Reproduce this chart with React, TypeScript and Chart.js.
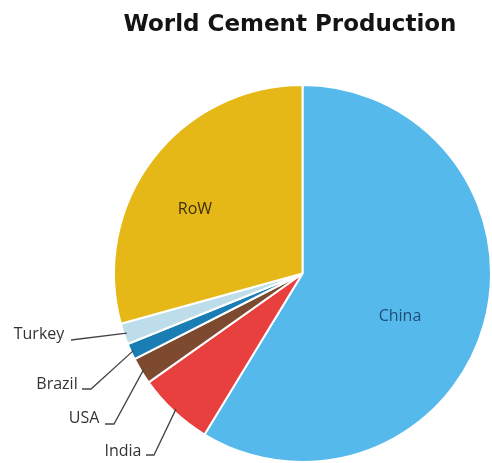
import React, { useEffect, useRef } from "react";
import { Chart, registerables } from "chart.js";

Chart.register(...registerables);

const categories = ["China", "India", "USA", "Brazil", "Turkey", "RoW"];
const values = [58.7, 6.5, 2.3, 1.4, 1.8, 29.3];
const colors = ["#55B9EB", "#E8403F", "#7D4A30", "#1A7DB3", "#BCDDE9", "#E5B817"];
const chartTitle = "World Cement Production";

// label placement: inside labels centered; outside labels with leader lines
const insideLabels: Record<string, { x: number; y: number; color: string }> = {
  China: { x: 400, y: 316, color: "#1F4E79" },
  RoW: { x: 195, y: 209, color: "#3B2F0C" },
};
const outsideLabels: Record<string, { tx: number; ty: number; lx: number; ly: number; kx: number }> = {
  Turkey: { tx: 39, ty: 334, lx: 71, ly: 340, kx: 71 },
  Brazil: { tx: 57, ty: 384, lx: 82, ly: 389, kx: 91 },
  USA: { tx: 84, ty: 418, lx: 105, ly: 424, kx: 114 },
  India: { tx: 123, ty: 451, lx: 146, ly: 455, kx: 154 },
};

const labelPlugin = {
  id: "pieLabels",
  afterDraw(chart: any) {
    const ctx = chart.ctx;
    ctx.save();
    // title
    ctx.font = "bold 23px 'DejaVu Sans'";
    ctx.fillStyle = "#141414";
    ctx.textAlign = "center";
    ctx.textBaseline = "alphabetic";
    ctx.fillText(chartTitle, 290, 31);

    const meta = chart.getDatasetMeta(0);
    ctx.font = "16px 'Open Sans'";
    ctx.textBaseline = "middle";
    meta.data.forEach((arc: any, i: number) => {
      const name = categories[i];
      const { x, y, startAngle, endAngle, outerRadius } = arc.getProps(
        ["x", "y", "startAngle", "endAngle", "outerRadius"],
        true
      );
      if (insideLabels[name]) {
        const l = insideLabels[name];
        ctx.fillStyle = l.color;
        ctx.textAlign = "center";
        ctx.fillText(name, l.x, l.y);
      } else if (outsideLabels[name]) {
        const l = outsideLabels[name];
        const mid = (startAngle + endAngle) / 2;
        const r = outerRadius - 3;
        const px = x + Math.cos(mid) * r;
        const py = y + Math.sin(mid) * r;
        ctx.strokeStyle = "#444";
        ctx.lineWidth = 1.3;
        ctx.beginPath();
        ctx.moveTo(l.lx, l.ly);
        ctx.lineTo(l.kx, l.ly);
        ctx.lineTo(px, py);
        ctx.stroke();
        ctx.fillStyle = "#333333";
        ctx.textAlign = "center";
        ctx.fillText(name, l.tx, l.ty);
      }
    });
    ctx.restore();
  },
};

export default function App() {
  const ref = useRef<HTMLCanvasElement>(null);
  useEffect(() => {
    document.body.style.margin = "0";
    if (!ref.current) return;
    const chart = new Chart(ref.current, {
      type: "pie",
      data: {
        labels: categories,
        datasets: [
          {
            data: values,
            backgroundColor: colors,
            borderColor: "#FFFFFF",
            borderWidth: 2,
          },
        ],
      },
      options: {
        animation: false,
        responsive: false,
        maintainAspectRatio: false,
        layout: { padding: { left: 113, right: 0, top: 84, bottom: 0 } },
        plugins: {
          legend: { display: false },
          title: { display: false },
          tooltip: { enabled: false },
        },
      },
      plugins: [labelPlugin],
    });
    return () => chart.destroy();
  }, []);
  return (
    <div style={{ position: "absolute", left: 0, top: 0, width: 492, height: 463, background: "#fff" }}>
      <canvas ref={ref} width={492} height={463} style={{ width: 492, height: 463 }} />
    </div>
  );
}
